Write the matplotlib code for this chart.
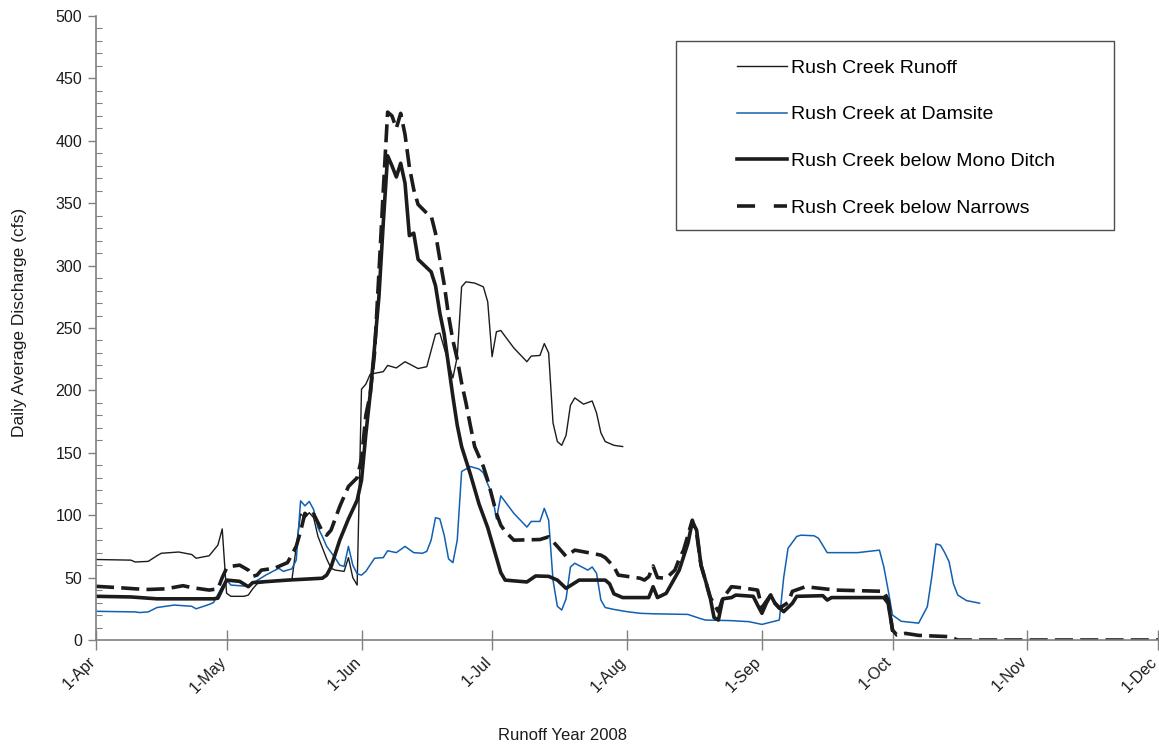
import matplotlib
matplotlib.use("Agg")
import matplotlib.pyplot as plt
import pandas as pd
from matplotlib.lines import Line2D
from matplotlib.patches import Rectangle
from matplotlib.ticker import MultipleLocator
from matplotlib.transforms import ScaledTranslation

plt.rcParams["font.family"] = ["Liberation Sans", "DejaVu Sans"]

YEAR = "2008-"

# Rush Creek Runoff (thin black)
runoff_dates = [
    "04-01", "04-09", "04-10", "04-13", "04-15", "04-16", "04-20", "04-23", "04-24",
    "04-27", "04-29", "04-30", "05-01", "05-02", "05-05", "05-06", "05-07", "05-08",
    "05-10", "05-12", "05-16", "05-18", "05-19", "05-20", "05-21", "05-22", "05-24",
    "05-25", "05-26", "05-28", "05-29", "05-30", "05-31", "06-01", "06-02", "06-03",
    "06-06", "06-07", "06-09", "06-11", "06-14", "06-16", "06-18", "06-19", "06-22",
    "06-23", "06-24", "06-25", "06-27", "06-29", "06-30", "07-01", "07-02", "07-03",
    "07-06", "07-09", "07-10", "07-12", "07-13", "07-14", "07-15", "07-16", "07-17",
    "07-18", "07-19", "07-20", "07-22", "07-24", "07-25", "07-26", "07-27", "07-29",
    "07-31",
]
runoff_cfs = [
    64.5, 64, 62.5, 63, 67.5, 69.5, 70.5, 68.5, 65.5,
    67.5, 76, 89, 37.5, 35, 35, 36, 41, 45,
    46.5, 47.5, 48, 101, 98, 102, 98, 83, 65,
    57.5, 56, 55, 66, 50, 44, 201, 205, 213,
    215, 220, 218, 223, 217.5, 219, 245, 246, 210,
    227, 283, 287, 286, 283, 271, 227, 247, 248,
    234, 223, 227.5, 228, 237.5, 230, 174, 159, 156,
    164, 188, 194, 189, 191.5, 182, 166, 159, 156,
    155,
]

# Rush Creek at Damsite (blue)
damsite_dates = [
    "04-01", "04-10", "04-11", "04-13", "04-15", "04-19", "04-23", "04-24", "04-27",
    "04-28", "04-30", "05-01", "05-02", "05-06", "05-07", "05-10", "05-13", "05-14",
    "05-16", "05-17", "05-18", "05-19", "05-20", "05-21", "05-22", "05-23", "05-24",
    "05-26", "05-27", "05-28", "05-29", "05-30", "05-31", "06-01", "06-02", "06-04",
    "06-06", "06-07", "06-09", "06-11", "06-13", "06-15", "06-16", "06-17", "06-18",
    "06-19", "06-20", "06-21", "06-22", "06-23", "06-24", "06-26", "06-28", "06-29",
    "06-30", "07-01", "07-02", "07-03", "07-06", "07-09", "07-10", "07-12", "07-13",
    "07-14", "07-15", "07-16", "07-17", "07-18", "07-19", "07-20", "07-23", "07-24",
    "07-25", "07-26", "07-27", "07-29", "08-01", "08-04", "08-07", "08-15", "08-18",
    "08-19", "08-25", "08-29", "09-01", "09-05", "09-06", "09-07", "09-09", "09-10",
    "09-13", "09-14", "09-16", "09-23", "09-28", "09-29", "09-30", "10-01", "10-03",
    "10-07", "10-09", "10-10", "10-11", "10-12", "10-13", "10-14", "10-15", "10-16",
    "10-18", "10-21",
]
damsite_cfs = [
    23, 22.5, 22, 22.5, 26, 28, 27, 25, 28.5,
    30, 43, 48, 44, 43, 45.5, 52, 57.5, 55,
    57, 64, 111.5, 107.5, 111, 104.5, 90, 83, 75,
    65.5, 60, 59, 75, 60, 53, 52, 55, 65.5,
    66, 71.5, 70, 75, 70, 69.5, 71, 80, 98,
    97, 84, 65, 62, 80, 135, 139, 137, 134,
    125, 117, 97, 115.5, 101.5, 90.5, 95, 95, 105.5,
    96, 48, 27, 24, 33, 58.5, 61.5, 56, 58.5,
    53.5, 32, 26, 24.5, 22.7, 21.4, 21, 20.5, 17,
    16, 15.5, 14.7, 12.5, 16, 50, 73.5, 83, 84,
    83.5, 81.5, 70, 70, 72, 58.7, 40, 20, 15,
    13.5, 26.7, 50, 77, 76, 70, 62.7, 45, 36,
    31.6, 29.5,
]

# Rush Creek below Mono Ditch (thick black)
mono_dates = [
    "04-01", "04-09", "04-15", "04-28", "04-29", "05-01", "05-04", "05-06", "05-07",
    "05-15", "05-23", "05-24", "05-25", "05-27", "05-29", "05-31", "06-01", "06-02",
    "06-03", "06-04", "06-05", "06-06", "06-07", "06-08", "06-09", "06-10", "06-11",
    "06-12", "06-13", "06-14", "06-17", "06-18", "06-19", "06-20", "06-21", "06-22",
    "06-23", "06-24", "06-26", "06-28", "06-30", "07-02", "07-03", "07-04", "07-09",
    "07-11", "07-14", "07-16", "07-18", "07-21", "07-27", "07-28", "07-29", "07-31",
    "08-06", "08-07", "08-08", "08-10", "08-13", "08-15", "08-16", "08-17", "08-18",
    "08-20", "08-21", "08-22", "08-23", "08-25", "08-26", "08-30", "08-31", "09-01",
    "09-02", "09-03", "09-04", "09-06", "09-08", "09-09", "09-15", "09-16", "09-17",
    "09-29", "09-30", "10-01",
]
mono_cfs = [
    35, 34.5, 33, 33, 33.5, 48, 47, 42.7, 46,
    48, 49.5, 52, 58.5, 80, 97, 112, 128, 165,
    197, 235, 275, 334, 388, 380, 371, 382, 366,
    324, 326, 305, 295, 284, 262, 245, 220, 195,
    172, 155, 133, 109, 90, 66, 54, 48, 46.5,
    51.3, 51, 48, 41.4, 48, 48, 45, 37, 34,
    34, 42.7, 34, 37.4, 56, 77.5, 94.8, 88, 60,
    36, 18, 16, 33, 34, 36, 35, 28, 21.4,
    29.4, 36, 29.4, 22.7, 29.4, 35, 35.5, 32, 34,
    34, 29.4, 8,
]

# Rush Creek below Narrows (thick dashed)
narrows_dates = [
    "04-01", "04-06", "04-10", "04-13", "04-17", "04-21", "04-23", "04-27", "04-29",
    "04-30", "05-01", "05-02", "05-04", "05-06", "05-07", "05-08", "05-09", "05-12",
    "05-15", "05-17", "05-18", "05-19", "05-20", "05-21", "05-23", "05-24", "05-25",
    "05-27", "05-29", "05-31", "06-01", "06-02", "06-03", "06-04", "06-05", "06-06",
    "06-07", "06-08", "06-09", "06-10", "06-11", "06-12", "06-13", "06-14", "06-16",
    "06-17", "06-18", "06-19", "06-20", "06-21", "06-22", "06-23", "06-24", "06-25",
    "06-26", "06-27", "06-29", "06-30", "07-02", "07-03", "07-04", "07-06", "07-12",
    "07-14", "07-16", "07-18", "07-20", "07-24", "07-26", "07-27", "07-29", "07-30",
    "08-04", "08-05", "08-06", "08-07", "08-08", "08-10", "08-12", "08-13", "08-14",
    "08-16", "08-17", "08-18", "08-19", "08-20", "08-22", "08-23", "08-25", "08-28",
    "08-31", "09-01", "09-03", "09-04", "09-05", "09-07", "09-08", "09-11", "09-18",
    "09-29", "09-30", "10-01", "10-02", "10-04", "10-07", "10-14", "10-16", "12-01",
]
narrows_cfs = [
    43, 42, 41, 40.5, 41, 43.5, 42, 40, 41,
    50, 57.5, 59, 60, 56, 51, 52, 56, 57.5,
    62, 75, 87, 101.5, 98, 101, 87, 84, 88,
    107, 123, 130, 145, 180, 197, 230, 294, 360,
    423, 420, 410, 422, 405, 379, 361, 349, 342,
    340, 326, 305, 285, 260, 240, 225, 206, 190,
    172, 155, 139, 128, 101.5, 92, 87, 80, 80.5,
    82.7, 75, 67, 72, 69.4, 68, 66, 58.7, 52,
    49.5, 48, 50.7, 59.3, 50, 49.5, 56, 65, 72,
    96, 85, 60, 48, 35, 22.7, 33.4, 42.7, 41.6,
    40, 26, 36, 29.4, 25.4, 30, 39, 42.7, 40,
    39, 32, 8, 4, 5.3, 3.7, 2.7, 0, 0,
]

month_ticks = ["04-01", "05-01", "06-01", "07-01", "08-01", "09-01", "10-01", "11-01", "12-01"]
month_labels = ["1-Apr", "1-May", "1-Jun", "1-Jul", "1-Aug", "1-Sep", "1-Oct", "1-Nov", "1-Dec"]

series_labels = [
    "Rush Creek Runoff",
    "Rush Creek at Damsite",
    "Rush Creek below Mono Ditch",
    "Rush Creek below Narrows",
]


def to_dates(days):
    return pd.to_datetime([YEAR + d for d in days])


BLUE = "#1260b0"
INK = "#1c1c1c"
AXIS_GRAY = "#808080"

fig = plt.figure(figsize=(11.59, 7.44), dpi=100)
ax = fig.add_axes([96 / 1159, 1 - 640 / 744, 1062 / 1159, 624 / 744])

ax.plot(to_dates(runoff_dates), runoff_cfs, color=INK, lw=1.0)
ax.plot(to_dates(damsite_dates), damsite_cfs, color=BLUE, lw=1.1)
ax.plot(to_dates(mono_dates), mono_cfs, color=INK, lw=2.6, solid_joinstyle="round")
ax.plot(to_dates(narrows_dates), narrows_cfs, color=INK, lw=2.6, dashes=(5.0, 2.0))

ticks = to_dates(month_ticks)
ax.set_xlim(ticks[0], ticks[-1])
ax.set_ylim(0, 500)
ax.set_xticks(ticks)
ax.set_xticklabels(month_labels, rotation=45, ha="right", va="top", rotation_mode="anchor")
ax.yaxis.set_major_locator(MultipleLocator(50))
ax.yaxis.set_minor_locator(MultipleLocator(10))

for side in ("top", "right"):
    ax.spines[side].set_visible(False)
for side in ("left", "bottom"):
    ax.spines[side].set_color(AXIS_GRAY)
    ax.spines[side].set_linewidth(1.2)

ax.tick_params(axis="x", direction="inout", length=14, width=1.0, color=AXIS_GRAY,
               labelsize=11.5, labelcolor=INK, pad=3)
ax.tick_params(axis="y", which="major", direction="out", length=6, width=1.0,
               color=AXIS_GRAY, labelsize=11.5, labelcolor=INK, pad=4)
ax.tick_params(axis="y", which="minor", direction="in", length=4, width=0.8, color=AXIS_GRAY)

# nudge rotated date labels left so the last one stays on the canvas
shift = ScaledTranslation(-6 / 72, 0, fig.dpi_scale_trans)
for lbl in ax.get_xticklabels():
    lbl.set_transform(lbl.get_transform() + shift)

fig.text(562 / 1159, 1 - 735 / 744, "Runoff Year 2008", ha="center", va="center",
         fontsize=12, color=INK)
fig.text(20 / 1159, 1 - 322 / 744, "Daily Average Discharge (cfs)", ha="center",
         va="center", rotation=90, fontsize=12.5, color=INK)

# legend box and entries
fig.patches.append(Rectangle((676 / 1159, 1 - 230 / 744), 438 / 1159, 189 / 744,
                             transform=fig.transFigure, fill=False,
                             edgecolor="#4d4d4d", lw=1.0))
handles = [
    Line2D([], [], color=INK, lw=1.0),
    Line2D([], [], color=BLUE, lw=1.1),
    Line2D([], [], color=INK, lw=2.6),
    Line2D([], [], color=INK, lw=2.6, dashes=(5.0, 5.2)),
]
fig.legend(handles, series_labels, loc="center left",
           bbox_to_anchor=(737 / 1159, 1 - 138 / 744), frameon=False,
           fontsize=14, handlelength=2.55, handletextpad=0.25,
           labelspacing=1.5, borderpad=0, borderaxespad=0)

fig.savefig("out.png", dpi=100)
